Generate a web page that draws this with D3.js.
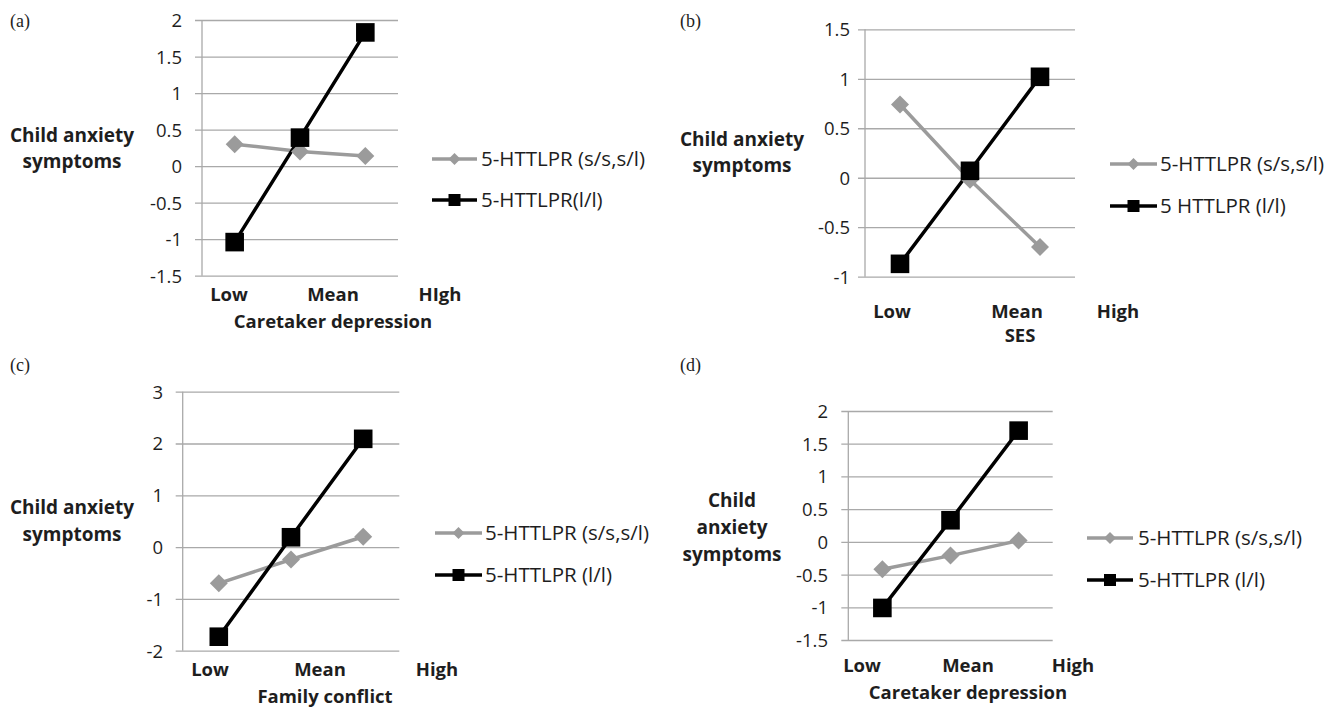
<!DOCTYPE html>
<html><head><meta charset="utf-8">
<script src="https://cdn.jsdelivr.net/npm/d3@7"></script>
<style>
body{margin:0;background:#fff;}
svg{display:block;}
</style></head>
<body><svg id="c" width="1341" height="709"></svg>
<script>
// ---------- data ----------
const levels = ["Low", "Mean", "High"];
const panelLetters = ["(a)", "(b)", "(c)", "(d)"];
const xTitles = ["Caretaker depression", "SES", "Family conflict", "Caretaker depression"];
const legendSS = ["5-HTTLPR (s/s,s/l)", "5-HTTLPR (s/s,s/l)", "5-HTTLPR (s/s,s/l)", "5-HTTLPR (s/s,s/l)"];
const legendLL = ["5-HTTLPR(l/l)", "5 HTTLPR (l/l)", "5-HTTLPR (l/l)", "5-HTTLPR (l/l)"];
const catLabels = [["Low", "Mean", "HIgh"], ["Low", "Mean", "High"], ["Low", "Mean", "High"], ["Low", "Mean", "High"]];
const yTitleLines = [["Child anxiety", "symptoms"], ["Child anxiety", "symptoms"], ["Child anxiety", "symptoms"], ["Child", "anxiety", "symptoms"]];

const ssA = [0.30, 0.20, 0.14];
const llA = [-1.04, 0.39, 1.83];
const ssB = [0.74, -0.02, -0.70];
const llB = [-0.87, 0.07, 1.02];
const ssC = [-0.70, -0.24, 0.20];
const llC = [-1.73, 0.19, 2.09];
const ssD = [-0.42, -0.21, 0.02];
const llD = [-1.01, 0.33, 1.70];

const ticksA = [-1.5, -1, -0.5, 0, 0.5, 1, 1.5, 2];
const ticksB = [-1, -0.5, 0, 0.5, 1, 1.5];
const ticksC = [-2, -1, 0, 1, 2, 3];
const ticksD = [-1.5, -1, -0.5, 0, 0.5, 1, 1.5, 2];

// ---------- layout (positions only) ----------
const layout = [
  {ss: ssA, ll: llA, ticks: ticksA, x0: 202, x1: 398, yTop: 20, yBot: 275.7,
   letter: [10, 27], labX: [229, 333, 440], labY: 301, titleX: 333, titleY: 328,
   yt: {x: 72, ys: [142, 168]}, tickRight: 182, leg: {x0: 432, x1: 477, y1: 159, y2: 200, tx: 481}},
  {ss: ssB, ll: llB, ticks: ticksB, x0: 865, x1: 1075, yTop: 29.3, yBot: 276.7,
   letter: [680, 27], labX: [892, 1017, 1118], labY: 318, titleX: 1020, titleY: 342,
   yt: {x: 742, ys: [146, 172]}, tickRight: 850, leg: {x0: 1110, x1: 1157, y1: 164, y2: 206, tx: 1160}},
  {ss: ssC, ll: llC, ticks: ticksC, x0: 182.7, x1: 399.3, yTop: 391.7, yBot: 650.7,
   letter: [10, 371], labX: [210, 320, 437], labY: 676, titleX: 325, titleY: 703,
   yt: {x: 72, ys: [514, 541]}, tickRight: 163, leg: {x0: 435, x1: 482, y1: 533, y2: 575, tx: 485}},
  {ss: ssD, ll: llD, ticks: ticksD, x0: 848.3, x1: 1052.7, yTop: 411, yBot: 640,
   letter: [680, 371], labX: [862, 968, 1073], labY: 672, titleX: 968, titleY: 699,
   yt: {x: 732, ys: [507, 534, 561]}, tickRight: 828, leg: {x0: 1087, x1: 1133, y1: 538, y2: 580, tx: 1138}}
];

const GRAY = "#9b9b9b", BLACK = "#000", GRID = "#a9a9a9", TXT = "#1e1e1e";
const FONT = "'Open Sans', sans-serif";
const fmt = d => String(d);

const svg = d3.select("#c");

function diamond(s) { return `M0,${-s}L${s},0L0,${s}L${-s},0Z`; }
function square(s) { return `M${-s},${-s}H${s}V${s}H${-s}Z`; }

layout.forEach((p, i) => {
  const g = svg.append("g");
  const x = d3.scaleBand().domain(levels).range([p.x0, p.x1]);
  const cx = d => x(d) + x.bandwidth() / 2;
  const y = d3.scaleLinear().domain(d3.extent(p.ticks)).range([p.yBot, p.yTop]);

  const ax = d3.axisLeft(y).tickValues(p.ticks).tickSize(-(p.x1 - p.x0)).tickSizeOuter(0).tickFormat(fmt);
  const axG = g.append("g").attr("transform", `translate(${p.x0},0)`).call(ax);
  axG.select(".domain").remove();
  axG.selectAll(".tick line").attr("stroke", GRID).attr("stroke-width", 1.3).attr("x1", -7);
  axG.selectAll(".tick text").attr("x", p.tickRight - p.x0).attr("font-family", FONT)
     .attr("font-size", 18.5).attr("fill", TXT).attr("text-anchor", "end").attr("dy", "0.35em");
  g.append("line").attr("x1", p.x0).attr("x2", p.x0).attr("y1", p.yTop).attr("y2", p.yBot)
    .attr("stroke", GRID).attr("stroke-width", 1.3);

  const line = d3.line().x((d, k) => cx(levels[k])).y(d => y(d));
  g.append("path").datum(p.ss).attr("d", line).attr("fill", "none").attr("stroke", GRAY).attr("stroke-width", 3.5);
  g.append("path").datum(p.ll).attr("d", line).attr("fill", "none").attr("stroke", BLACK).attr("stroke-width", 3.5);
  g.selectAll(".ssm").data(p.ss).join("path").attr("d", diamond(9))
    .attr("transform", (d, k) => `translate(${cx(levels[k])},${y(d)})`).attr("fill", GRAY);
  g.selectAll(".llm").data(p.ll).join("path").attr("d", square(9.3))
    .attr("transform", (d, k) => `translate(${cx(levels[k])},${y(d)})`).attr("fill", BLACK);

  g.selectAll(".cat").data(catLabels[i]).join("text").attr("x", (d, k) => p.labX[k]).attr("y", p.labY)
    .attr("text-anchor", "middle").attr("font-family", FONT).attr("font-weight", "bold")
    .attr("font-size", 18.5).attr("fill", TXT).text(d => d);
  g.append("text").attr("x", p.titleX).attr("y", p.titleY).attr("text-anchor", "middle")
    .attr("font-family", FONT).attr("font-weight", "bold").attr("font-size", 18.5).attr("fill", TXT).text(xTitles[i]);

  g.selectAll(".yt").data(yTitleLines[i]).join("text").attr("x", p.yt.x).attr("y", (d, k) => p.yt.ys[k])
    .attr("text-anchor", "middle").attr("font-family", FONT).attr("font-weight", "bold")
    .attr("font-size", 19).attr("fill", TXT).text(d => d);

  g.append("text").attr("x", p.letter[0]).attr("y", p.letter[1]).attr("font-family", "'Liberation Serif', serif")
    .attr("font-size", 18).attr("fill", TXT).text(panelLetters[i]);

  const L = p.leg, mx = (L.x0 + L.x1) / 2;
  g.append("line").attr("x1", L.x0).attr("x2", L.x1).attr("y1", L.y1).attr("y2", L.y1).attr("stroke", GRAY).attr("stroke-width", 3.5);
  g.append("path").attr("d", diamond(6)).attr("transform", `translate(${mx},${L.y1})`).attr("fill", GRAY);
  g.append("line").attr("x1", L.x0).attr("x2", L.x1).attr("y1", L.y2).attr("y2", L.y2).attr("stroke", BLACK).attr("stroke-width", 3.5);
  g.append("path").attr("d", square(6)).attr("transform", `translate(${mx},${L.y2})`).attr("fill", BLACK);
  g.append("text").attr("x", L.tx).attr("y", L.y1).attr("dy", "0.35em").attr("font-family", FONT)
    .attr("font-size", 20.5).attr("fill", TXT).text(legendSS[i]);
  g.append("text").attr("x", L.tx).attr("y", L.y2).attr("dy", "0.35em").attr("font-family", FONT)
    .attr("font-size", 20.5).attr("fill", TXT).text(legendLL[i]);
});
</script></body></html>
